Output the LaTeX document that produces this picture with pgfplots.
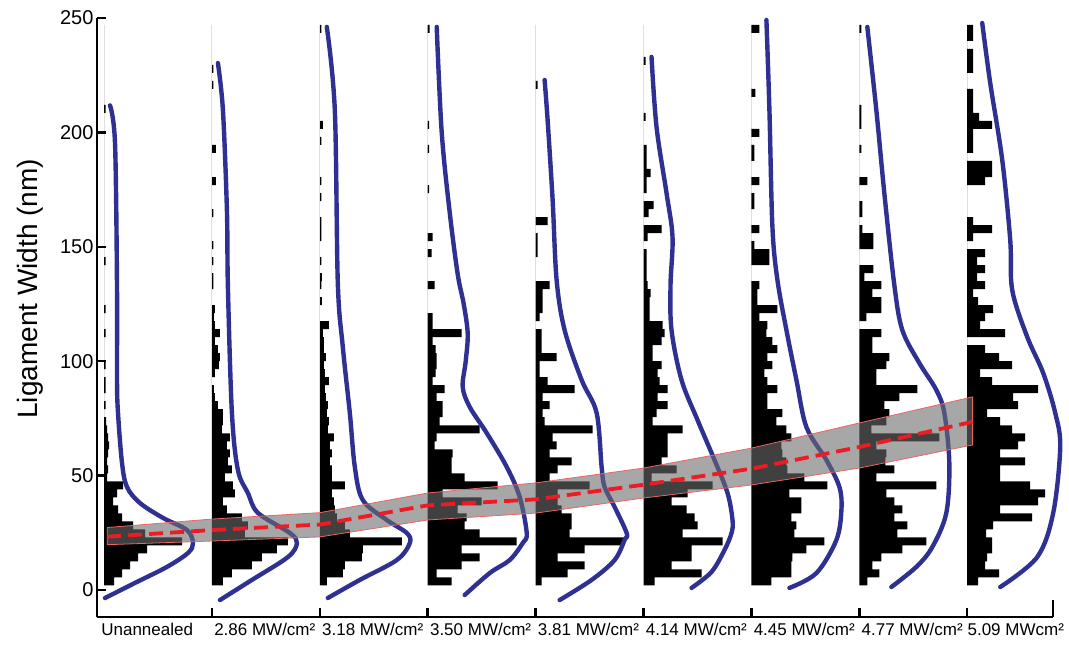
\documentclass[border=0pt]{standalone}
\usepackage{fontspec}
\setmainfont{Liberation Sans}
\usepackage{pgfplots}
\usepackage{pgfplotstable}
\pgfplotsset{compat=1.18}
\definecolor{curveblue}{RGB}{46,49,146}
\definecolor{dashred}{RGB}{237,28,36}
\definecolor{bandedge}{RGB}{236,100,100}
\definecolor{bandgray}{RGB}{108,108,108}

% histogram bar lengths (px) per bin, bins of 3.5 nm starting at 2 nm
\pgfplotstableread{
y g0 g1 g2 g3 g4 g5 g6 g7 g8
2 0 0 0 0 0 0 0 0 0
2 10 11 7 24 6 11 20 8 11
5.5 18 20 23 9 32 58 40 20 32
9 26 40 25 34 49 28 40 13 18
12.5 34 50 42 52 22 48 41 22 20
16 43 65 43 34 49 48 55 43 25
19.5 78 76 82 89 89 79 73 67 25
23 41 33 30 52 34 39 43 38 19
26.5 29 36 25 37 36 54 45 48 26
30 18 30 17 39 36 51 40 35 65
33.5 14 15 15 30 26 43 50 43 33
37 9 11 14 54 22 28 50 35 71
40.5 13 23 12 15 22 44 38 27 78
44 19 21 25 70 54 69 76 77 63
47.5 3 13 12 37 14 8 53 17 33
51 4 20 12 24 22 33 36 35 33
54.5 3 16 10 24 36 18 35 26 58
58 4 18 12 25 14 24 31 27 33
61.5 5 15 10 7 21 24 30 17 51
65 4 18 14 9 17 24 40 80 58
68.5 3 10 8 52 57 39 35 12 45
72 2 11 9 12 9 9 25 27 33
75.5 0 11 7 15 7 13 31 30 20
79 1.5 6 8 15 14 24 16 25 51
82.5 0 3 6 9 7 14 16 40 46
86 1.5 2 5 17 39 24 26 58 71
89.5 1.5 0 9 5 12 16 16 17 25
93 0 3 5 8 4 14 13 17 13
96.5 1.5 7 4 9 4 18 21 27 45
100 0 8 6 9 21 9 16 30 32
103.5 0 6 4 8 6 9 26 13 18
107 0 3 4 5 6 18 21 13 0
110.5 1.5 8 3 34 6 21 15 22 38
114 0 3 9 5 0 19 16 0 13
117.5 0 2 0 5 4 6 8 7 18
121 1.5 3 0 0 7 6 26 22 26
124.5 0 0 2 0 7 6 6 22 11
128 0 0 0 0 7 7 6 13 6
131.5 0 1.5 1.5 7 14 4 8 22 18
135 0 1.5 2 0 0 3 0 5 10
138.5 0 0 0 0 0 3 0 14 18
142 1.5 1.5 1.5 0 0 3 18 0 10
145.5 0 0 0 4 2 3 18 0 18
149 0 1.5 0 0 2 0 3 14 0
152.5 0 0 1.5 5 2 4 0 14 6
156 0 0 1.5 0 0 18 8 3 25
159.5 0 0 1.5 0 12 0 0 0 6
163 0 1.5 0 0 0 5 0 3 0
166.5 0 0 0 0 0 10 3 3 0
170 0 0 1.5 0 0 0 3 0 0
173.5 0 0 0 1.5 0 3 0 0 0
177 0 4 1.5 0 0 3 8 8 18
180.5 0 0 0 0 0 7 0 0 25
184 0 0 0 0 0 3 0 0 25
187.5 0 0 0 0 0 3 3 0 0
191 0 4 0 1.5 0 3 3 2 6
194.5 0 0 1.5 0 0 0 0 0 6
198 0 0 0 0 0 0 8 0 6
201.5 0 0 3 1.5 0 0 0 2 25
205 0 0 0 0 0 2 0 2 12
208.5 1.5 0 0 0 0 0 0 2 6
212 0 0 0 0 0 0 0 0 6
215.5 0 0 0 0 0 0 4 0 6
219 0 1.5 0 0 2 0 0 0 0
222.5 0 0 0 0 0 0 0 0 0
226 0 1.5 0 0 0 0 0 0 6
229.5 0 0 0 0 0 2 0 0 6
233 0 0 0 0 0 0 0 0 6
236.5 0 0 0 0 0 0 0 0 0
240 0 0 0 0 0 0 0 0 6
243.5 0 0 1.5 2 0 0 8 2 6
247 0 0 0 0 0 0 0 0 0
}\hist

% fitted curves: dx (px from baseline), y (nm)
\pgfplotstableread{
dx y
1 -3.5
31 3.1
63 10.1
84 16.2
89 20.5
83 26.2
59 31.5
36 38.0
23 45.0
18 55.5
14 77.4
13 91.8
13 132.4
11 195.3
6 211.8
}\cA
\pgfplotstableread{
dx y
8 -4.4
40 4.4
76 14.4
85 20.5
78 24.9
46 33.7
36 42.4
26 52.4
20 77.4
16 132.4
15 166.1
11 209.8
6 230.3
}\cB
\pgfplotstableread{
dx y
8 -3.5
40 4.4
77 13.1
90 20.5
87 24.9
67 30.6
43 39.3
35 53.8
30 77.4
23 106.2
18 134.2
15 209.8
7 246.1
}\cC
\pgfplotstableread{
dx y
37 -2.2
62 7.4
82 13.1
95 20.5
99 24.9
92 40.6
79 53.8
59 68.6
42 80.0
35 88.7
38 100
40 112
36 125
30 138
22 165
14 200
9 246.1
}\cD
\pgfplotstableread{
dx y
24 -4.4
56 4.4
79 13.1
89 21.9
91 24.9
79 36.3
69 45.0
66 53.8
61 77.4
46 91.8
29 113.6
21 135.5
17 170.5
12 205.4
9 222.9
}\cE
\pgfplotstableread{
dx y
48 0.9
68 7.9
81 17.5
88 24.9
89 30.6
84 42.4
71 56.8
54 74.3
38 91.8
28 113.6
27 133.3
29 154.3
23 173.5
13 202.4
8 233.0
}\cF
\pgfplotstableread{
dx y
38 0.9
65 7.4
85 21.9
90 35.0
88 45.0
75 56.8
55 71.2
45 91.8
35 113.6
26 135.5
21 158.7
18 209.8
15 249.1
}\cG
\pgfplotstableread{
dx y
32 1.3
57 10.1
73 18.8
87 33.7
90 55.5
85 77.4
77 87.4
60 99.2
43 113.6
35 133.3
25 173.5
17 209.8
8 246.1
}\cH
\pgfplotstableread{
dx y
33 1.3
70 14.4
86 33.7
93 62.5
88 77.4
76 94.8
60 110.6
45 131.1
43 153.0
35 188.0
23 221.6
15 247.8
}\cI

% confidence band and mean trend
\pgfplotstableread{
x y
0.03 27.3
1 31.0
2 33.8
3 42.4
4 46.8
5 53.3
6 62.0
7 73.0
8.05 84.4
8.05 63.4
7 53.3
6 45.9
5 40.2
4 33.6
3 30.6
2 23.2
1 21.4
0.03 19.8
0.03 27.3
}\band
\pgfplotstableread{
x y
0.03 23.3
1 26.2
2 28.6
3 37.0
4 39.6
5 46.0
6 53.0
7 62.5
8.05 73.5
}\meanline

\begin{document}
\begin{tikzpicture}
\useasboundingbox (-97pt,-30pt) rectangle (972pt,617pt);
\begin{axis}[
  scale only axis, width=956pt, height=599pt,
  at={(0pt,0pt)}, anchor=south west,
  xmin=-0.065, xmax=8.795, ymin=-11.8, ymax=250,
  clip=false,
  axis x line=bottom, axis y line=left,
  axis line style={-, line width=2.5pt, black},
  tick align=inside,
  tick style={line width=2.5pt, black},
  major tick length=0pt, minor tick length=9pt,
  ytick={0,50,100,150,200,250},
  minor ytick={0,50,100,150,200,250},
  /pgf/number format/assume math mode=true,
  yticklabel style={font=\fontsize{20}{23}\selectfont},
  xtick={0.40,1.49,2.49,3.49,4.49,5.49,6.49,7.49,8.45},
  xticklabels={Unannealed, 2.86 MW/cm², 3.18 MW/cm², 3.50 MW/cm², 3.81 MW/cm², 4.14 MW/cm², 4.45 MW/cm², 4.77 MW/cm², 5.09 MWcm²},
  xticklabel style={font=\fontsize{17}{20}\selectfont, yshift=-3pt},
  minor xtick={1,2,3,4,5,6,7,8},
  extra x ticks={8.795},
  extra x tick labels={},
  extra x tick style={major tick length=17pt},
  ylabel={Ligament Width (nm)},
  ylabel style={font=\fontsize{28}{32}\selectfont, at={(axis description cs:-0.070,0.548)}, anchor=center},
]
\pgfplotsinvokeforeach{0,1,2,3,4,5,6,7,8}{
  \addplot[fill=black, draw=none, const plot mark right]
    table[x expr={#1+\thisrow{g#1}/107.9}, y=y]{\hist};
}
\addplot[curveblue, line width=4.4pt, line cap=round, smooth, tension=0.55] table[x expr={0+\thisrow{dx}/107.9}, y=y]{\cA};
\addplot[curveblue, line width=4.4pt, line cap=round, smooth, tension=0.55] table[x expr={1+\thisrow{dx}/107.9}, y=y]{\cB};
\addplot[curveblue, line width=4.4pt, line cap=round, smooth, tension=0.55] table[x expr={2+\thisrow{dx}/107.9}, y=y]{\cC};
\addplot[curveblue, line width=4.4pt, line cap=round, smooth, tension=0.55] table[x expr={3+\thisrow{dx}/107.9}, y=y]{\cD};
\addplot[curveblue, line width=4.4pt, line cap=round, smooth, tension=0.55] table[x expr={4+\thisrow{dx}/107.9}, y=y]{\cE};
\addplot[curveblue, line width=4.4pt, line cap=round, smooth, tension=0.55] table[x expr={5+\thisrow{dx}/107.9}, y=y]{\cF};
\addplot[curveblue, line width=4.4pt, line cap=round, smooth, tension=0.55] table[x expr={6+\thisrow{dx}/107.9}, y=y]{\cG};
\addplot[curveblue, line width=4.4pt, line cap=round, smooth, tension=0.55] table[x expr={7+\thisrow{dx}/107.9}, y=y]{\cH};
\addplot[curveblue, line width=4.4pt, line cap=round, smooth, tension=0.55] table[x expr={8+\thisrow{dx}/107.9}, y=y]{\cI};
\addplot[fill=bandgray, fill opacity=0.6, draw=bandedge, line width=0.8pt] table[x=x, y=y]{\band};
\addplot[dashred, line width=3.8pt, dash pattern=on 14pt off 7pt] table[x=x, y=y]{\meanline};
\end{axis}
\end{tikzpicture}
\end{document}
